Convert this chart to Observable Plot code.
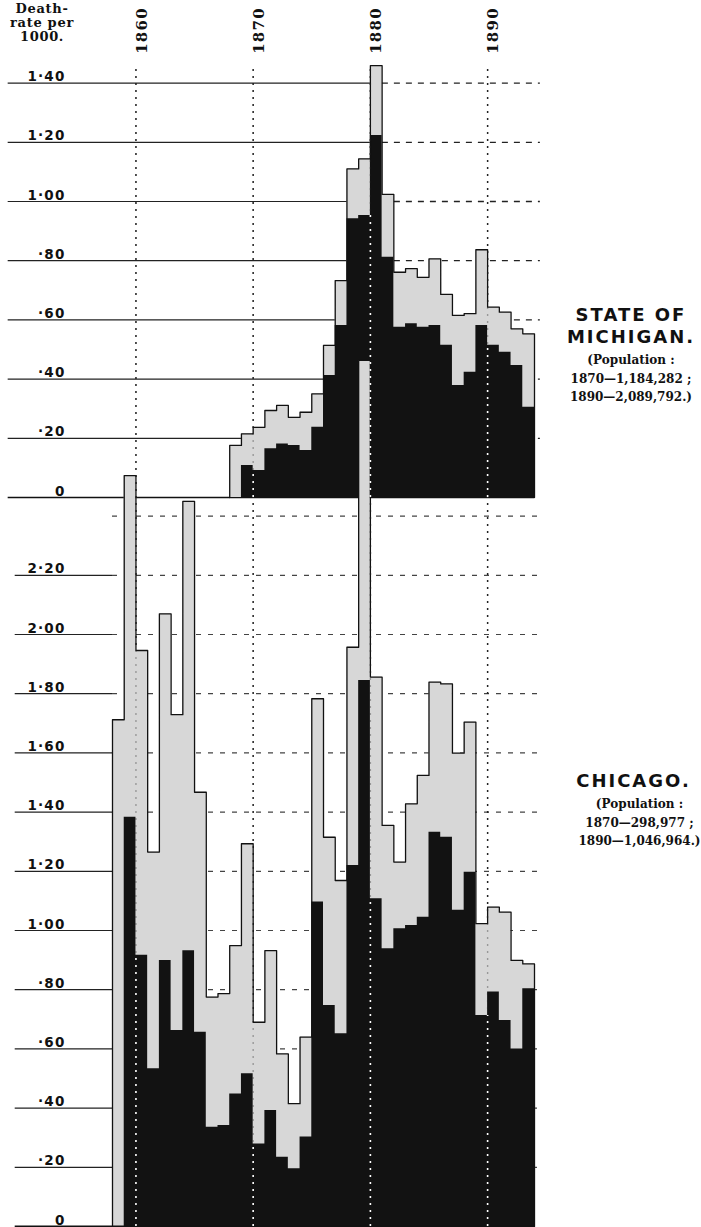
<!DOCTYPE html>
<html><head><meta charset="utf-8">
<script src="https://cdn.jsdelivr.net/npm/d3@7"></script>
<script src="https://cdn.jsdelivr.net/npm/@observablehq/plot@0.6"></script>
<style>
body{margin:0;background:#fff}
#wrap{position:relative;width:701px;height:1227px;overflow:hidden;background:#fff}
#wrap svg{position:absolute;left:0;top:0}
#wrap svg text{letter-spacing:1.2px}
.hdr{position:absolute;left:1px;top:2px;width:82px;text-align:center;font:bold 13px/14px "DejaVu Serif";letter-spacing:0.7px;color:#111}
.lab{position:absolute;text-align:center;color:#111}
.lab .t{font:bold 18px/22px "DejaVu Sans";letter-spacing:2px}
.lab .s{font:bold 12px/18.5px "DejaVu Serif";margin-top:3px}
</style></head><body>
<div id="wrap">
  <div class="hdr">Death-<br>rate per<br>1000.</div>
  <div class="lab" style="left:561px;top:304px;width:140px">
    <div class="t">STATE OF<br>MICHIGAN.</div>
    <div class="s">(Population :<br>1870—1,184,282 ;<br>1890—2,089,792.)</div>
  </div>
  <div class="lab" style="left:566px;top:770px;width:135px">
    <div class="t">CHICAGO.</div>
    <div class="s" style="padding-left:12px">(Population :<br>1870—298,977 ;<br>1890—1,046,964.)</div>
  </div>
</div>
<script>
// ---- data (death-rate per 1000) ----
const michiganYears = [1868,1869,1870,1871,1872,1873,1874,1875,1876,1877,1878,1879,1880,1881,1882,1883,1884,1885,1886,1887,1888,1889,1890,1891,1892,1893];
const michiganTotal = [0.176,0.215,0.237,0.294,0.311,0.271,0.288,0.350,0.514,0.733,1.110,1.144,1.459,1.024,0.761,0.773,0.744,0.806,0.686,0.615,0.621,0.837,0.643,0.626,0.570,0.553];
const michiganBlack = [0,0.108,0.091,0.165,0.181,0.176,0.159,0.237,0.412,0.581,0.942,0.953,1.223,0.812,0.575,0.587,0.575,0.581,0.514,0.378,0.423,0.581,0.514,0.491,0.446,0.305];

const chicagoYears = [1858,1859,1860,1861,1862,1863,1864,1865,1866,1867,1868,1869,1870,1871,1872,1873,1874,1875,1876,1877,1878,1879,1880,1881,1882,1883,1884,1885,1886,1887,1888,1889,1890,1891,1892,1893];
const chicagoTotal = [1.712,2.537,1.946,1.265,2.070,1.729,2.450,1.467,0.775,0.787,0.949,1.293,0.690,0.932,0.583,0.415,0.640,1.783,1.315,1.169,1.957,2.926,1.856,1.355,1.231,1.428,1.524,1.839,1.833,1.599,1.704,1.023,1.079,1.062,0.899,0.887];
const chicagoBlack = [0,1.383,0.916,0.533,0.899,0.662,0.932,0.656,0.335,0.341,0.448,0.516,0.279,0.392,0.234,0.195,0.302,1.096,0.747,0.651,1.220,1.845,1.107,0.938,1.006,1.017,1.045,1.332,1.315,1.068,1.197,0.713,0.792,0.696,0.600,0.803];

const decades = [1860,1870,1880,1890];
const michiganTicks = [0,0.2,0.4,0.6,0.8,1.0,1.2,1.4];
const chicagoTicks = [0,0.2,0.4,0.6,0.8,1.0,1.2,1.4,1.6,1.8,2.0,2.2];
const chicagoDashed = [0.2,0.4,0.6,0.8,1.0,1.2,1.4,1.6,1.8,2.0,2.2,2.4];

// ---- layout ----
const PX = 296, CHI0 = 1226, MICH0 = 497, TOP = 58;
const off = (CHI0 - MICH0) / PX;          // Michigan panel baseline in chart units
const yMax = (CHI0 - TOP) / PX;
const MICH_SPLIT = 1880;                  // solid grid left of this, dashed right
const LEFT_M = 1849.1, LEFT_C = 1849.7, RIGHT_END = 1894.5;

const GRAY = "#d7d7d7", BLACK = "#121212";

function steps(years, vals, base) {
  const pts = years.map((y, i) => ({x: y, y: vals[i] + base}));
  pts.push({x: years[years.length - 1] + 1, y: vals[vals.length - 1] + base});
  return pts;
}
function outline(years, vals, base) {
  const p = steps(years, vals, base);
  return [{x: years[0], y: base}, ...p, {x: years[years.length - 1] + 1, y: base}];
}
function whiteRules(years, black, base) {
  const out = [];
  for (const d of decades) {
    const i = years.indexOf(d);
    if (i > 0) out.push({x: d, y1: base, y2: base + Math.min(black[i - 1], black[i])});
  }
  return out;
}
const fmt = v => v === 0 ? "0" : v.toFixed(2).replace(/^0/, "").replace(".", "·");

const chart = Plot.plot({
  width: 701, height: 1227,
  marginTop: TOP, marginBottom: 1, marginLeft: 8, marginRight: 161,
  x: {domain: [1858, 1894], range: [112, 534], axis: null},
  y: {domain: [0, yMax], range: [CHI0, TOP], axis: null},
  style: {background: "white", color: "#111"},
  marks: [
    // gridlines – Michigan
    Plot.ruleY(michiganTicks.slice(1), {y: d => d + off, x1: LEFT_M, x2: MICH_SPLIT, stroke: "#222", strokeWidth: 1.2}),
    Plot.ruleY(michiganTicks.slice(1), {y: d => d + off, x1: MICH_SPLIT, x2: RIGHT_END, stroke: "#222", strokeWidth: 1.3, strokeDasharray: "6,6"}),
    Plot.ruleY([0], {y: d => d + off, x1: LEFT_M, x2: 1894, stroke: "#111", strokeWidth: 1.6}),
    // gridlines – Chicago
    Plot.ruleY(chicagoTicks.slice(1), {y: d => d, x1: LEFT_C, x2: 1858, stroke: "#222", strokeWidth: 1.2}),
    Plot.ruleY(chicagoDashed, {y: d => d, x1: 1858, x2: RIGHT_END, stroke: "#444", strokeWidth: 1.2, strokeDasharray: "5,7"}),
    // decade lines (behind)
    Plot.ruleX(decades, {x: d => d, y1: 0, y2: yMax - 0.02, stroke: "#222", strokeWidth: 1.4, strokeDasharray: "2,5"}),
    // Michigan bars
    Plot.areaY(steps(michiganYears, michiganTotal, off), {x: "x", y1: off, y2: "y", curve: "step-after", fill: GRAY}),
    Plot.areaY(steps(michiganYears, michiganBlack, off), {x: "x", y1: off, y2: "y", curve: "step-after", fill: BLACK}),
    Plot.line(outline(michiganYears, michiganTotal, off), {x: "x", y: "y", curve: "step-after", stroke: "#111", strokeWidth: 1.3}),
    // Chicago bars
    Plot.areaY(steps(chicagoYears, chicagoTotal, 0), {x: "x", y1: 0, y2: "y", curve: "step-after", fill: GRAY}),
    Plot.areaY(steps(chicagoYears, chicagoBlack, 0), {x: "x", y1: 0, y2: "y", curve: "step-after", fill: BLACK}),
    Plot.line(outline(chicagoYears, chicagoTotal, 0), {x: "x", y: "y", curve: "step-after", stroke: "#111", strokeWidth: 1.3}),
    Plot.ruleY([0], {x1: LEFT_C, x2: 1894, stroke: "#111", strokeWidth: 2}),
    // decade lines over bars
    Plot.ruleX(decades, {x: d => d, y1: 0, y2: yMax - 0.02, stroke: "#222", strokeOpacity: 0.35, strokeWidth: 1.4, strokeDasharray: "2,5"}),
    Plot.ruleX(whiteRules(michiganYears, michiganBlack, off), {x: "x", y1: "y1", y2: "y2", stroke: "white", strokeWidth: 1.6, strokeDasharray: "2,5"}),
    Plot.ruleX(whiteRules(chicagoYears, chicagoBlack, 0), {x: "x", y1: "y1", y2: "y2", stroke: "white", strokeWidth: 1.6, strokeDasharray: "2,5"}),
    // tick labels
    Plot.text(michiganTicks, {y: d => d + off, text: fmt, frameAnchor: "left", dx: 57, dy: -2, textAnchor: "end", lineAnchor: "bottom", fontSize: 13.5, fontWeight: "bold", fontFamily: "DejaVu Sans", fill: "#111"}),
    Plot.text(chicagoTicks, {y: d => d, text: fmt, frameAnchor: "left", dx: 57, dy: -2, textAnchor: "end", lineAnchor: "bottom", fontSize: 13.5, fontWeight: "bold", fontFamily: "DejaVu Sans", fill: "#111"}),
    Plot.text(decades, {x: d => d, text: d => String(d), frameAnchor: "top", dy: -28, rotate: -90, fontSize: 15, fontWeight: "bold", fontFamily: "DejaVu Serif", fill: "#111"})
  ]
});
document.getElementById("wrap").prepend(chart);
</script>
</body></html>
